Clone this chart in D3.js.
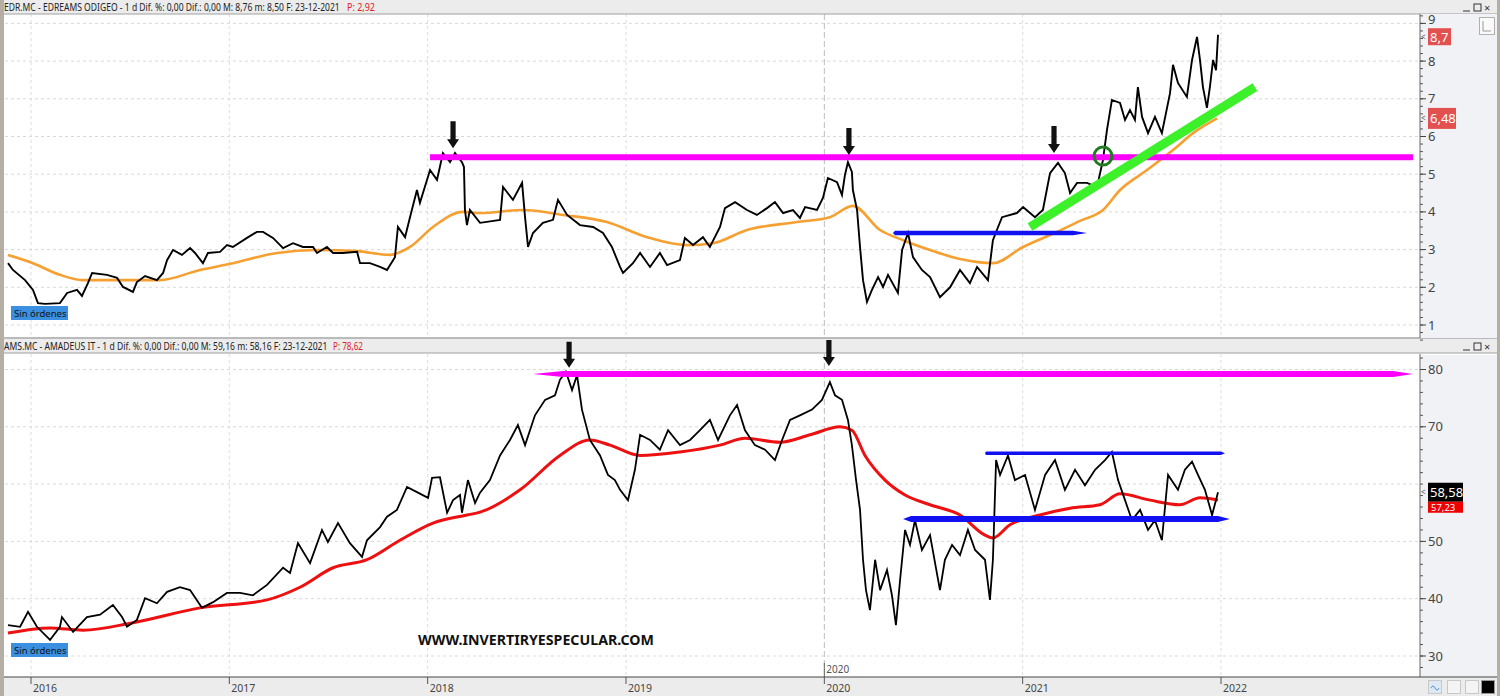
<!DOCTYPE html>
<html><head><meta charset="utf-8">
<script src="https://cdn.jsdelivr.net/npm/d3@7"></script>
<style>
html,body{margin:0;padding:0;background:#fff;overflow:hidden;}
svg{display:block;}
text{font-family:"Noto Sans","DejaVu Sans",sans-serif;}
</style></head><body>
<svg id="c" width="1500" height="696"></svg>
<script>
// ---------- DATA ----------
const years = [2016,2017,2018,2019,2020,2021,2022];
const edrTicks = [1,2,3,4,5,6,7,8,9];
const amsTicks = [30,40,50,60,70,80];

// EDR.MC close (decimal year, price)
const edrT = [2015.884,2015.909,2015.970,2016.010,2016.035,2016.071,2016.146,2016.182,2016.232,2016.257,2016.287,2016.308,2016.383,2016.434,2016.464,2016.514,2016.534,2016.575,2016.635,2016.666,2016.686,2016.716,2016.761,2016.802,2016.827,2016.867,2016.892,2016.953,2016.988,2017.018,2017.089,2017.139,2017.170,2017.220,2017.271,2017.321,2017.371,2017.422,2017.442,2017.492,2017.523,2017.573,2017.644,2017.659,2017.709,2017.760,2017.795,2017.820,2017.835,2017.850,2017.886,2017.911,2017.946,2017.961,2018.012,2018.047,2018.077,2018.113,2018.138,2018.173,2018.183,2018.188,2018.198,2018.213,2018.264,2018.365,2018.380,2018.430,2018.476,2018.491,2018.506,2018.531,2018.581,2018.632,2018.657,2018.703,2018.768,2018.834,2018.884,2018.929,2018.970,2018.985,2019.035,2019.071,2019.121,2019.171,2019.207,2019.272,2019.297,2019.338,2019.388,2019.423,2019.474,2019.499,2019.550,2019.610,2019.660,2019.711,2019.751,2019.792,2019.842,2019.877,2019.903,2019.963,2019.993,2020.018,2020.064,2020.089,2020.104,2020.119,2020.139,2020.144,2020.165,2020.180,2020.195,2020.215,2020.240,2020.271,2020.296,2020.321,2020.371,2020.392,2020.422,2020.447,2020.492,2020.533,2020.583,2020.634,2020.684,2020.734,2020.770,2020.825,2020.850,2020.876,2020.896,2020.971,2021.002,2021.062,2021.102,2021.138,2021.178,2021.213,2021.239,2021.274,2021.324,2021.375,2021.405,2021.425,2021.450,2021.491,2021.516,2021.541,2021.566,2021.581,2021.602,2021.632,2021.667,2021.702,2021.743,2021.758,2021.783,2021.828,2021.854,2021.879,2021.894,2021.909,2021.929,2021.944,2021.960,2021.975,2021.985];
const edrV = [2.64,2.46,2.19,1.93,1.58,1.56,1.58,1.85,1.93,1.77,2.11,2.38,2.33,2.25,2.01,1.88,2.14,2.30,2.19,2.38,2.72,2.99,2.86,3.04,2.91,2.64,2.91,2.94,3.12,3.07,3.31,3.47,3.47,3.31,3.04,3.17,3.07,3.07,2.91,3.07,2.91,2.91,2.94,2.64,2.64,2.54,2.46,2.67,2.80,3.60,3.33,3.86,4.58,4.24,5.11,4.85,5.56,5.32,5.56,5.32,5.19,4.05,3.65,4.05,3.71,3.79,4.66,4.32,4.77,3.86,3.07,3.44,3.71,3.79,4.32,3.92,3.65,3.60,3.44,3.07,2.54,2.38,2.64,2.91,2.54,2.91,2.59,2.72,3.31,3.12,3.33,3.07,3.60,4.10,4.26,4.05,3.92,4.10,4.26,3.97,4.05,3.84,4.13,4.05,4.37,4.90,4.79,4.45,4.98,5.32,5.06,4.58,4.05,3.07,2.19,1.61,1.93,2.27,2.01,2.33,1.85,2.99,3.44,2.80,2.46,2.27,1.74,2.00,2.46,2.11,2.54,2.19,3.25,3.60,3.86,3.97,4.13,3.86,4.05,5.03,5.30,5.03,4.50,4.77,4.77,4.66,5.38,6.17,6.97,6.89,6.44,6.70,6.44,7.31,6.52,6.09,6.52,6.09,7.15,7.90,7.42,7.05,8.03,8.64,8.03,7.31,6.76,7.31,8.03,7.76,8.70];

// EDR moving average
const edrMaT = [2015.884,2016.010,2016.146,2016.262,2016.434,2016.650,2016.852,2017.018,2017.240,2017.442,2017.644,2017.810,2017.911,2018.027,2018.178,2018.264,2018.481,2018.682,2018.904,2019.106,2019.308,2019.439,2019.610,2019.862,2020.028,2020.144,2020.281,2020.397,2020.533,2020.684,2020.850,2021.002,2021.173,2021.289,2021.405,2021.491,2021.627,2021.758,2021.859,2021.980];
const edrMaV = [2.86,2.64,2.33,2.19,2.19,2.19,2.46,2.64,2.91,2.99,2.96,2.86,3.07,3.60,4.00,3.97,4.05,3.92,3.73,3.33,3.12,3.17,3.52,3.73,3.86,4.16,3.52,3.25,2.99,2.75,2.64,3.07,3.47,3.76,4.05,4.58,5.11,5.64,6.09,6.48];

// AMS.MC close
const amsT = [2015.884,2015.945,2015.985,2016.030,2016.096,2016.146,2016.156,2016.212,2016.282,2016.348,2016.413,2016.459,2016.484,2016.534,2016.575,2016.635,2016.686,2016.751,2016.802,2016.862,2016.918,2016.988,2017.054,2017.119,2017.190,2017.271,2017.306,2017.346,2017.407,2017.467,2017.497,2017.548,2017.608,2017.669,2017.694,2017.760,2017.795,2017.845,2017.896,2017.946,2018.002,2018.022,2018.062,2018.098,2018.128,2018.163,2018.173,2018.203,2018.239,2018.264,2018.314,2018.365,2018.415,2018.455,2018.491,2018.541,2018.592,2018.642,2018.667,2018.697,2018.728,2018.753,2018.778,2018.818,2018.869,2018.909,2018.944,2018.970,2019.010,2019.045,2019.071,2019.121,2019.171,2019.212,2019.272,2019.323,2019.373,2019.423,2019.464,2019.524,2019.560,2019.600,2019.650,2019.701,2019.751,2019.787,2019.827,2019.877,2019.938,2019.988,2020.028,2020.054,2020.089,2020.119,2020.139,2020.160,2020.180,2020.195,2020.210,2020.230,2020.256,2020.281,2020.316,2020.341,2020.361,2020.382,2020.407,2020.432,2020.457,2020.492,2020.533,2020.583,2020.608,2020.644,2020.684,2020.724,2020.760,2020.810,2020.835,2020.850,2020.866,2020.886,2020.926,2020.961,2021.012,2021.062,2021.113,2021.163,2021.213,2021.264,2021.314,2021.365,2021.415,2021.450,2021.481,2021.516,2021.551,2021.592,2021.632,2021.667,2021.702,2021.733,2021.783,2021.818,2021.854,2021.884,2021.919,2021.955,2021.985];
const amsV = [35.4,35.1,37.7,35.1,32.8,35.1,36.8,34.2,36.8,37.2,38.9,36.8,35.1,36.3,40.1,39.2,41.2,42.0,41.5,38.4,39.4,41.0,41.0,40.6,42.4,45.4,44.5,49.7,46.2,52.0,49.9,53.2,49.7,47.3,50.2,52.5,54.3,55.5,59.5,58.6,57.6,61.1,61.2,55.0,57.2,58.1,55.0,60.7,56.7,58.5,60.7,65.0,67.7,70.3,66.8,72.0,74.7,75.5,78.2,79.6,76.4,79.0,73.0,67.7,65.0,61.6,60.7,59.0,57.2,62.5,68.6,67.7,66.0,69.4,66.8,67.7,69.4,71.2,67.7,72.0,73.8,69.4,66.8,66.0,64.2,67.7,71.2,72.0,73.0,74.7,77.8,75.5,74.7,71.2,66.8,60.7,55.5,46.8,41.5,38.0,46.8,41.5,45.0,40.6,35.4,43.3,52.0,49.4,53.7,48.5,51.1,41.5,46.8,49.4,47.6,52.0,48.5,46.8,39.8,46.8,64.2,61.6,65.0,60.7,61.6,55.5,61.6,64.2,59.0,62.5,59.8,62.5,64.2,65.6,60.7,57.2,53.7,55.5,52.0,53.7,50.2,61.6,59.0,62.5,63.9,61.6,59.0,54.6,58.58];

// AMS moving average
const amsMaT = [2015.884,2016.096,2016.262,2016.514,2016.852,2017.190,2017.356,2017.523,2017.694,2017.860,2018.027,2018.198,2018.264,2018.466,2018.667,2018.818,2018.919,2019.071,2019.272,2019.474,2019.600,2019.776,2019.928,2020.079,2020.139,2020.205,2020.306,2020.407,2020.533,2020.684,2020.810,2020.850,2020.936,2021.087,2021.239,2021.390,2021.491,2021.642,2021.793,2021.894,2021.985];
const amsMaV = [34.0,34.9,34.5,35.8,38.4,39.8,42.0,45.4,46.8,50.2,53.2,54.6,55.1,59.0,65.0,67.7,66.8,65.0,65.6,66.8,68.0,67.3,68.6,70.0,69.4,65.0,60.7,58.1,56.4,54.6,51.1,50.6,52.9,54.6,55.8,56.4,58.3,57.2,56.4,57.6,57.23];

// annotations (time, value)
const edrResist = {t0:2018.012, t1:2022.968, v:5.45};
const edrArrows = [[2018.128,5.69],[2020.124,5.51],[2021.158,5.56]];
const edrBlue = {t0:2020.346, t1:2021.324, v:3.44};
const edrTrend = [[2021.037,3.60],[2022.171,7.31]];
const edrCircle = [2021.405,5.48];
const amsResist = {t0:2018.531, t1:2022.968, v:79.2};
const amsArrows = [[2018.713,80.3],[2020.023,80.6]];
const amsBlueHi = {t0:2020.810, t1:2022.020, v:65.4};
const amsBlueLo = {t0:2020.397, t1:2022.045, v:53.9};

const edrHeader = ["EDR.MC - EDREAMS ODIGEO -  1 d  Dif. %: 0,00  Dif.: 0,00  M: 8,76  m: 8,50  F: 23-12-2021", "P: 2,92"];
const amsHeader = ["AMS.MC - AMADEUS IT -  1 d  Dif. %: 0,00  Dif.: 0,00  M: 59,16  m: 58,16  F: 23-12-2021", "P: 78,62"];

// ---------- LAYOUT ----------
const svg = d3.select('#c');
const PL = 5, PR = 1420, AX = 1497;
const P1 = {top:14, bot:338};
const P2 = {top:354, bot:677};

const x = d3.scaleLinear().domain([2016,2022]).range([31,1221]);
const y1 = d3.scaleLinear().domain([1,9]).range([325,23.4]);
const y2 = d3.scaleLinear().domain([30,80]).range([656,369.5]);

svg.append('rect').attr('width',1500).attr('height',696).attr('fill','#fff');

const defs = svg.append('defs');
defs.append('clipPath').attr('id','cp1').append('rect').attr('x',PL).attr('y',P1.top).attr('width',PR-PL).attr('height',P1.bot-P1.top);
defs.append('clipPath').attr('id','cp2').append('rect').attr('x',PL).attr('y',P2.top).attr('width',PR-PL).attr('height',P2.bot-P2.top);

function grid(g, ys, ticks, P){
  g.selectAll('line.h').data(ticks).join('line')
    .attr('x1',PL).attr('x2',PR).attr('y1',d=>ys(d)).attr('y2',d=>ys(d))
    .attr('stroke','#d9d9d9').attr('stroke-dasharray','3,3');
  g.selectAll('line.v').data(years).join('line').attr('class','v')
    .attr('x1',d=>x(d)).attr('x2',d=>x(d)).attr('y1',P.top).attr('y2',P.bot)
    .attr('stroke',d=>d===2020?'#bdbdbd':'#dcdcdc').attr('stroke-dasharray',d=>d===2020?'6,3':'3,3');
}
function taper(g, x0, x1, yy, h, t0, t1, color){
  const p = d3.path();
  p.moveTo(x0, yy); p.lineTo(x0+t0, yy-h/2); p.lineTo(x1-t1, yy-h/2); p.lineTo(x1, yy);
  p.lineTo(x1-t1, yy+h/2); p.lineTo(x0+t0, yy+h/2); p.closePath();
  g.append('path').attr('d',p.toString()).attr('fill',color);
}
function arrow(g, ax, ay, len){
  const p = d3.path();
  p.moveTo(ax-2.6, ay-len); p.lineTo(ax+2.6, ay-len); p.lineTo(ax+2.6, ay-9); p.lineTo(ax+6, ay-9);
  p.lineTo(ax, ay); p.lineTo(ax-6, ay-9); p.lineTo(ax-2.6, ay-9); p.closePath();
  g.append('path').attr('d',p.toString()).attr('fill','#111');
}
function zip(a,b){ return a.map((t,i)=>[t,b[i]]); }
function fitText(parent, tx, ty, str, width, fs, color){
  const g = parent.append('g');
  const t = g.append('text').attr('x',0).attr('y',0).attr('font-family','"Liberation Sans",Arial,sans-serif')
    .attr('font-size',fs).attr('fill',color).text(str);
  const w = t.node().getComputedTextLength();
  g.attr('transform',`translate(${tx},${ty}) scale(${width/w},1)`);
}

// ----- Panel 1 -----
const g1 = svg.append('g');
grid(g1, y1, edrTicks, P1);
const c1 = g1.append('g').attr('clip-path','url(#cp1)');
c1.append('path').datum(zip(edrMaT,edrMaV)).attr('fill','none').attr('stroke','#f5a031').attr('stroke-width',2.6)
  .attr('d', d3.line().x(d=>x(d[0])).y(d=>y1(d[1])).curve(d3.curveMonotoneX));
c1.append('path').datum(zip(edrT,edrV)).attr('fill','none').attr('stroke','#000').attr('stroke-width',1.9).attr('stroke-linejoin','miter')
  .attr('d', d3.line().x(d=>x(d[0])).y(d=>y1(d[1])));
c1.append('rect').attr('x',x(edrResist.t0)).attr('width',x(edrResist.t1)-x(edrResist.t0)).attr('y',y1(edrResist.v)-3).attr('height',6).attr('fill','#ff00ff');
taper(c1, x(edrBlue.t0), x(edrBlue.t1), y1(edrBlue.v), 4.5, 2, 14, '#1010f0');
c1.append('line').attr('x1',x(edrTrend[0][0])).attr('y1',y1(edrTrend[0][1])).attr('x2',x(edrTrend[1][0])).attr('y2',y1(edrTrend[1][1]))
  .attr('stroke','#3cf02a').attr('stroke-width',9);
c1.append('circle').attr('cx',x(edrCircle[0])).attr('cy',y1(edrCircle[1])).attr('r',9).attr('fill','none').attr('stroke','#1f7d1f').attr('stroke-width',3);
edrArrows.forEach(a=>arrow(svg, x(a[0]), y1(a[1]), 27));

// ----- Panel 2 -----
const g2 = svg.append('g');
grid(g2, y2, amsTicks, P2);
const c2 = g2.append('g').attr('clip-path','url(#cp2)');
c2.append('path').datum(zip(amsMaT,amsMaV)).attr('fill','none').attr('stroke','#ee1010').attr('stroke-width',3)
  .attr('d', d3.line().x(d=>x(d[0])).y(d=>y2(d[1])).curve(d3.curveMonotoneX));
c2.append('path').datum(zip(amsT,amsV)).attr('fill','none').attr('stroke','#000').attr('stroke-width',1.8)
  .attr('d', d3.line().x(d=>x(d[0])).y(d=>y2(d[1])));
taper(c2, x(amsResist.t0), x(amsResist.t1), y2(amsResist.v), 6, 30, 20, '#ff00ff');
taper(c2, x(amsBlueHi.t0), x(amsBlueHi.t1), y2(amsBlueHi.v), 3.5, 1, 4, '#1010f0');
taper(c2, x(amsBlueLo.t0), x(amsBlueLo.t1), y2(amsBlueLo.v), 6, 8, 12, '#1010f0');
c2.append('text').attr('x',418).attr('y',645).attr('font-family','"Liberation Sans",Arial,sans-serif').attr('font-weight','bold')
  .attr('font-size',14.2).attr('fill','#111').text('WWW.INVERTIRYESPECULAR.COM');
c2.append('text').attr('x',x(2020)+2).attr('y',673).attr('font-size',10).attr('fill','#555').text('2020');
c2.append('line').attr('x1',x(2020)).attr('x2',x(2020)).attr('y1',663).attr('y2',677).attr('stroke','#666');

// Sin órdenes labels
[[306],[643]].forEach(([yy])=>{
  svg.append('rect').attr('x',11).attr('y',yy).attr('width',57).attr('height',14).attr('fill','#3b8fe0');
  svg.append('text').attr('x',14).attr('y',yy+10.5).attr('font-size',9.5).attr('fill','#111').text('Sin órdenes');
});

// ----- headers -----
function header(yy, parts, mainLen, redX, redLen){
  svg.append('rect').attr('x',0).attr('y',yy).attr('width',1500).attr('height',14).attr('fill','#ececec');
  svg.append('line').attr('x1',0).attr('x2',1500).attr('y1',yy+14).attr('y2',yy+14).attr('stroke','#a0a0a0');
  fitText(svg, 4, yy+10.5, parts[0], mainLen, 10, '#222');
  fitText(svg, redX, yy+10.5, parts[1], redLen, 10, '#e02020');
  svg.append('line').attr('x1',1463).attr('x2',1470).attr('y1',yy+11).attr('y2',yy+11).attr('stroke','#333');
  svg.append('rect').attr('x',1474).attr('y',yy+4).attr('width',7).attr('height',7).attr('fill','none').attr('stroke','#333');
  svg.append('text').attr('x',1484).attr('y',yy+11.5).attr('font-size',11).attr('fill','#333').text('×');
}
svg.append('line').attr('x1',0).attr('x2',1500).attr('y1',0.5).attr('y2',0.5).attr('stroke','#8a8a8a');
header(0, edrHeader, 336, 347, 28);
svg.append('line').attr('x1',0).attr('x2',1500).attr('y1',338).attr('y2',338).attr('stroke','#777');
header(339, amsHeader, 324, 333, 30);
amsArrows.forEach(a=>arrow(svg, x(a[0]), y2(a[1]), 26));

// ----- right axes -----
function rightAxis(P, ys, ticks, minorStep, lo, hi, topTick){
  svg.append('rect').attr('x',PR).attr('y',P.top+ (P.top===14?0:1)).attr('width',AX-PR).attr('height',P.bot-P.top-(P.top===14?0:1)).attr('fill','#f0f2f5');
  svg.append('line').attr('x1',PR).attr('x2',PR).attr('y1',P.top).attr('y2',P.bot).attr('stroke','#666');
  const minors = d3.range(lo, hi+1e-9, minorStep);
  svg.append('g').selectAll('line').data(minors).join('line')
    .attr('x1',PR).attr('x2',PR+3).attr('y1',d=>ys(d)).attr('y2',d=>ys(d)).attr('stroke','#555');
  svg.append('g').selectAll('line').data(ticks).join('line')
    .attr('x1',PR).attr('x2',PR+6).attr('y1',d=>ys(d)).attr('y2',d=>ys(d)).attr('stroke','#444');
  svg.append('g').selectAll('text').data(ticks).join('text')
    .attr('x',PR+8).attr('y',d=>ys(d)+(d===topTick?1:4.5)).attr('font-size',13).attr('fill','#444').text(d=>d);
}
rightAxis(P1, y1, edrTicks, 0.2, 0.6, 9.2, 9);
rightAxis(P2, y2, amsTicks.filter(d=>d!==60), 2, 28, 82, null);

// value labels
function vlabel(yy, txt, fill, w, h, fs){
  svg.append('rect').attr('x',1428).attr('y',yy-h/2).attr('width',w).attr('height',h).attr('fill',fill);
  svg.append('text').attr('x',1430).attr('y',yy+fs*0.38).attr('font-size',fs).attr('fill','#fff').text(txt);
  svg.append('text').attr('x',1421).attr('y',yy+3).attr('font-size',8).attr('fill','#555').text('<');
}
vlabel(y1(edrV[edrV.length-1])+2, '8,7', '#e2514f', 23, 17, 13);
vlabel(y1(edrMaV[edrMaV.length-1]), '6,48', '#e2514f', 28, 21, 13);
vlabel(y2(amsV[amsV.length-1]), '58,58', '#000', 35, 19, 13);
svg.append('rect').attr('x',1428).attr('y',y2(amsV[amsV.length-1])+9.5).attr('width',35).attr('height',11).attr('fill','#ee0000');
svg.append('text').attr('x',1431).attr('y',y2(amsV[amsV.length-1])+18.5).attr('font-size',9.5).attr('fill','#fff').text('57,23');
svg.append('rect').attr('x',1479.5).attr('y',17.5).attr('width',15).attr('height',17).attr('fill','#fafafa').attr('stroke','#b0b0b0');
svg.append('path').attr('d','M1483,21V31H1491').attr('fill','none').attr('stroke','#999');

// ----- x axis -----
svg.append('rect').attr('x',0).attr('y',P2.bot).attr('width',1500).attr('height',696-P2.bot).attr('fill','#ececec');
svg.append('line').attr('x1',0).attr('x2',AX).attr('y1',P2.bot).attr('y2',P2.bot).attr('stroke','#444');
const xa = svg.append('g');
xa.selectAll('line').data(years).join('line').attr('x1',d=>x(d)).attr('x2',d=>x(d)).attr('y1',P2.bot).attr('y2',P2.bot+7).attr('stroke','#555');
xa.selectAll('text').data(years).join('text').attr('x',d=>x(d)+2).attr('y',P2.bot+15).attr('font-size',10.5).attr('fill','#444').text(d=>d);
[[1428,'#dde8f5'],[1447,'#f4f4f4'],[1465,'#f4f4f4']].forEach(([bx,f])=>{
  svg.append('rect').attr('x',bx+0.5).attr('y',680.5).attr('width',13).attr('height',13).attr('fill',f).attr('stroke','#c8c8c8');
});
svg.append('path').attr('d','M1431,688q2,-4 4,0t4,0').attr('fill','none').attr('stroke','#5b8fd0');
svg.append('rect').attr('x',1481.5).attr('y',680.5).attr('width',13).attr('height',13).attr('fill','#000').attr('stroke','#999');

// borders
svg.append('rect').attr('x',0).attr('y',0).attr('width',4).attr('height',696).attr('fill','#b5aea4');
svg.append('rect').attr('x',AX).attr('y',0).attr('width',3).attr('height',696).attr('fill','#b5aea4');
</script>
</body></html>
